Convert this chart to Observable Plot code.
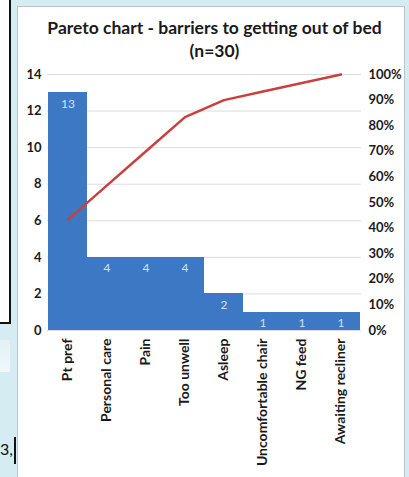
<!DOCTYPE html>
<html>
<head>
<meta charset="utf-8">
<script src="https://cdn.jsdelivr.net/npm/d3@7"></script>
<script src="https://cdn.jsdelivr.net/npm/@observablehq/plot@0.6"></script>
<style>
  html, body { margin: 0; padding: 0; }
  body {
    width: 409px; height: 477px; overflow: hidden; position: relative;
    background: #d5edf2; font-family: Lato, "Open Sans", sans-serif; color: #1a1a1a;
  }
  #leftbox {
    position: absolute; left: -2px; top: -2px; width: 11px; height: 324px;
    background: #fff; border-right: 2px solid #111; border-bottom: 2px solid #111;
  }
  #patch {
    position: absolute; left: 0; top: 340px; width: 10px; height: 32px;
    background: linear-gradient(#e3f1f6, #f0f7fa);
  }
  #frag { position: absolute; left: 0; top: 439px; font: 16px Lato, sans-serif; color: #111; }
  #cursor { position: absolute; left: 14px; top: 437px; width: 2px; height: 27px; background: #111; }
  #card {
    position: absolute; left: 17px; top: 6px; width: 386px; height: 480px;
    background: #fff; border: 1px solid #b8c6ca;
  }
  #title {
    position: absolute; left: 22px; top: 16px; width: 385px; text-align: center;
    font: bold 17.5px/23px Lato, sans-serif; color: #1a1a1a;
  }
  .layer { position: absolute; left: 19px; top: 62px; }
</style>
</head>
<body>
<div id="leftbox"></div>
<div id="patch"></div>
<div id="frag">3,</div>
<div id="cursor"></div>
<div id="card"></div>
<div id="title">Pareto chart - barriers to getting out of bed<br>(n=30)</div>
<div id="bars" class="layer"></div>
<div id="cum" class="layer"></div>
<script>
// Barriers to getting out of bed, sorted by frequency (n = 30)
const causes = ["Pt pref", "Personal care", "Pain", "Too unwell", "Asleep", "Uncomfortable chair", "NG feed", "Awaiting recliner"];
const counts = [13, 4, 4, 4, 2, 1, 1, 1];
const countTicks = [0, 2, 4, 6, 8, 10, 12, 14];
const pctTicks = [0, 0.1, 0.2, 0.3, 0.4, 0.5, 0.6, 0.7, 0.8, 0.9, 1];

const total = d3.sum(counts);
const running = d3.cumsum(counts);
const rows = causes.map((cause, i) => ({cause, count: counts[i], cum: running[i] / total}));

// shared frame so the two layers line up exactly
const frame = {
  width: 385, height: 415,
  marginLeft: 28, marginRight: 43, marginTop: 12, marginBottom: 147
};
const font = {fontFamily: "Lato, sans-serif", fontWeight: "bold", fill: "#1a1a1a"};

const bars = Plot.plot({
  ...frame,
  style: {background: "transparent", overflow: "visible"},
  x: {type: "band", domain: causes, padding: 0, axis: null},
  y: {domain: [0, 14], axis: null},
  marks: [
    Plot.ruleY(countTicks, {stroke: "#dcdcdc", strokeWidth: 1}),
    Plot.barY(rows, {x: "cause", y: "count", fill: "#3d78c4", shapeRendering: "crispEdges"}),
    Plot.text(rows, {x: "cause", y: "count", text: d => String(d.count), dy: 11,
      fill: "#d3e0f1", fontSize: 12, fontFamily: "Lato, sans-serif"}),
    Plot.axisY(countTicks, {anchor: "left", tickSize: 0, tickPadding: 6, label: null, fontSize: 13, ...font}),
    Plot.axisX({anchor: "bottom", tickSize: 0, tickRotate: -90, tickPadding: 8, label: null, fontSize: 14, ...font})
  ]
});
document.getElementById("bars").append(bars);

// cumulative share on the secondary (right) axis, points at band centres
const cum = Plot.plot({
  ...frame,
  style: {background: "transparent", overflow: "visible"},
  x: {type: "band", domain: causes, padding: 0, axis: null},
  y: {domain: [0, 1], axis: null},
  marks: [
    Plot.line(rows, {x: "cause", y: "cum", stroke: "#c9403d", strokeWidth: 2.5}),
    Plot.axisY(pctTicks, {anchor: "right", tickSize: 0, tickPadding: 7, label: null,
      tickFormat: d3.format(".0%"), textAnchor: "start", fontSize: 13, ...font})
  ]
});
document.getElementById("cum").append(cum);
</script>
</body>
</html>
